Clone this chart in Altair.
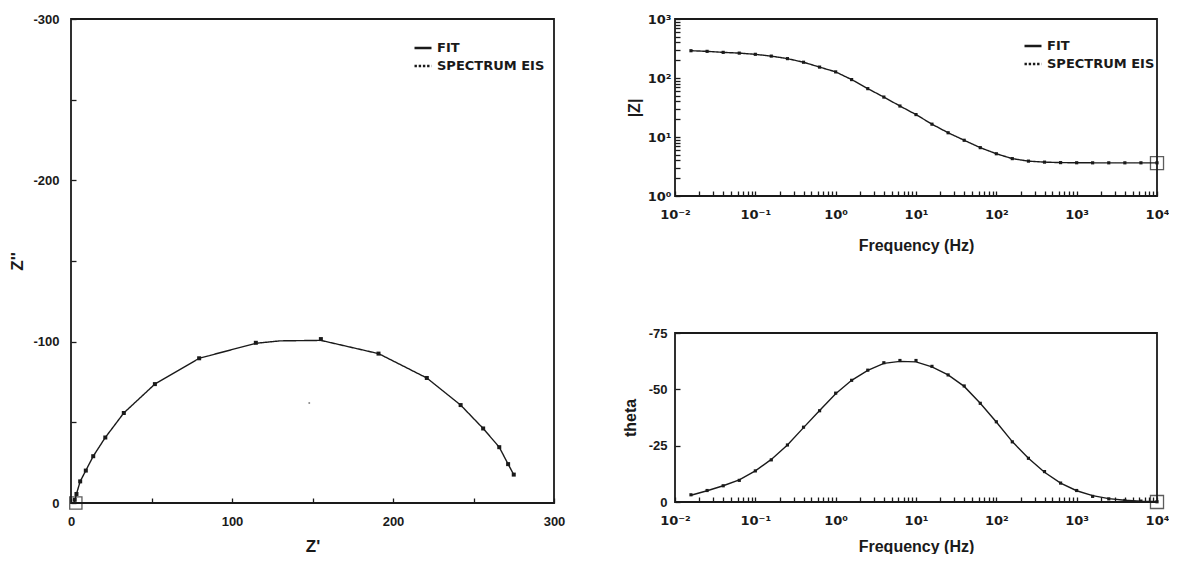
import altair as alt
import pandas as pd

FONT = "Liberation Sans"
SUPFONT = "DejaVu Sans"
INK = "#1a1a1a"

# ---------------- data ----------------
series_names = ["FIT", "SPECTRUM EIS"]

# Nyquist: Z' and Z'' (ohm)
zr_data = [2.3, 3.4, 5.7, 9.2, 13.8, 21.3, 32.8, 52.1, 79.6, 114.8, 155.2,
           191.0, 221.0, 242.0, 256.0, 266.0, 271.5, 275.0]
zi_data = [-2.0, -5.6, -13.4, -20.1, -29.0, -40.6, -55.8, -73.7, -89.7, -99.3,
           -101.6, -92.6, -77.5, -60.7, -46.2, -34.6, -24.1, -17.6]
zr_fit = [2.0, 3.4, 5.7, 9.2, 13.8, 21.3, 32.8, 52.1, 79.6, 114.8, 130.0,
          155.2, 191.0, 221.0, 242.0, 256.0, 266.0, 271.5, 275.0]
zi_fit = [0.0, -5.6, -13.4, -20.1, -29.0, -40.6, -55.8, -73.7, -89.7, -99.0,
          -100.5, -100.8, -92.6, -77.5, -60.7, -46.2, -34.6, -24.1, -17.6]
center_zr = [148.0]
center_zi = [-62.0]
nyq_marker_zr = [3.0]
nyq_marker_zi = [0.0]

# Bode
freq = [0.0158, 0.0251, 0.0398, 0.0631, 0.1, 0.158, 0.251, 0.398, 0.631, 1.0,
        1.58, 2.51, 3.98, 6.31, 10.0, 15.8, 25.1, 39.8, 63.1, 100.0,
        158.0, 251.0, 398.0, 631.0, 1000.0, 1580.0, 2510.0, 3980.0, 6310.0, 10000.0]
modz_data = [290, 283, 272, 264, 252, 235, 213, 185, 153, 127,
             94, 66, 47.5, 33.5, 24, 16.5, 11.8, 8.8, 6.6, 5.2,
             4.3, 3.9, 3.75, 3.68, 3.66, 3.65, 3.65, 3.65, 3.65, 3.65]
modz_fit = modz_data
theta_data = [-3.2, -5.1, -7.2, -9.6, -13.8, -18.7, -25.3, -33.2, -40.5, -48.3,
              -54.0, -58.5, -61.8, -62.8, -62.8, -60.2, -56.4, -51.5, -43.8, -35.6,
              -26.7, -19.4, -13.5, -8.4, -5.1, -2.5, -1.4, -0.7, -0.4, -0.1]
theta_fit = [-3.0, -5.0, -7.2, -9.8, -13.8, -18.9, -25.3, -33.0, -40.6, -48.0,
             -54.0, -58.4, -61.5, -62.4, -62.2, -60.0, -56.4, -51.3, -43.8, -35.5,
             -26.8, -19.4, -13.2, -8.4, -5.0, -2.8, -1.5, -0.8, -0.4, -0.2]
bode_marker_f = [10000.0]
bode_marker_modz = [3.6]
bode_marker_theta = [0.0]

# ticks / labels
nyq_x_ticks = [0, 50, 100, 150, 200, 250, 300]
nyq_x_labels = {0: "0", 100: "100", 200: "200", 300: "300"}
nyq_y_ticks = [-300, -250, -200, -150, -100, -50, 0]
nyq_y_labels = {-300: "-300", -200: "-200", -100: "-100", 0: "0"}
theta_ticks = [-75, -62.5, -50, -37.5, -25, -12.5, 0]
theta_labels = {-75: "-75", -50: "-50", -25: "-25", 0: "0"}
freq_decades = [0.01, 0.1, 1, 10, 100, 1000, 10000]
freq_decade_labels = ["10⁻²", "10⁻¹", "10⁰", "10¹", "10²", "10³", "10⁴"]
modz_decades = [1, 10, 100, 1000]
modz_decade_labels = ["10⁰", "10¹", "10²", "10³"]
minor_mult = [1, 2, 3, 4, 5, 6, 7, 8, 9]


def label_expr(mapping):
    expr = "''"
    for v, t in reversed(list(mapping.items())):
        tol = max(abs(v) * 1e-6, 1e-9)
        expr = f"abs(datum.value - ({v})) < {tol} ? '{t}' : ({expr})"
    return expr


def log_ticks(decades):
    vals = []
    for d in decades[:-1]:
        vals += [d * m for m in minor_mult]
    vals.append(decades[-1])
    return vals


def axis(values, mapping, title, pad, tpad, lfont=FONT, lsize=13, tsize=16):
    return alt.Axis(values=values, labelExpr=label_expr(mapping), title=title,
                    grid=False, domain=False, ticks=True, tickSize=5, offset=-5,
                    tickColor=INK, tickWidth=1.3, labelPadding=pad,
                    titlePadding=tpad, labelColor=INK, titleColor=INK,
                    labelFont=lfont, titleFont=FONT, labelFontWeight="bold",
                    titleFontWeight="bold", labelFontSize=lsize, titleFontSize=tsize,
                    labelFlush=False, labelOverlap=False)


dash_scale = alt.Scale(domain=series_names, range=[[1, 0], [2.4, 1.8]])


def legend(x, y):
    return alt.Legend(title=None, orient="none", legendX=x, legendY=y,
                      symbolType="stroke", symbolSize=289, symbolStrokeColor=INK,
                      symbolStrokeWidth=2.4, labelFont=SUPFONT, labelFontSize=13,
                      labelFontWeight="bold", labelColor=INK, rowPadding=1,
                      labelOffset=4, padding=0)


def frame():
    return alt.Chart(pd.DataFrame({"k": [0]})).mark_rect(
        filled=False, stroke=INK, strokeWidth=1.8).encode(
        x=alt.value(0), x2=alt.value("width"), y=alt.value(0), y2=alt.value("height"))


# ---------------- Nyquist ----------------
nyq_fit_df = pd.DataFrame({"zr": zr_fit, "zi": zi_fit, "series": series_names[0]})
nyq_dat_df = pd.DataFrame({"zr": zr_data, "zi": zi_data})
nyq_c_df = pd.DataFrame({"zr": center_zr, "zi": center_zi})
nyq_m_df = pd.DataFrame({"zr": nyq_marker_zr, "zi": nyq_marker_zi})

nx = alt.Scale(domain=[0, 300], nice=False, zero=False)
ny = alt.Scale(domain=[-300, 0], nice=False, zero=False, reverse=True)
nxa = axis(nyq_x_ticks, nyq_x_labels, "Z'", 12, 10, tsize=17)
nya = axis(nyq_y_ticks, nyq_y_labels, "Z''", 12, 6, tsize=17)

nyq_line = alt.Chart(nyq_fit_df).mark_line(color=INK, strokeWidth=1.4).encode(
    x=alt.X("zr:Q", scale=nx, axis=nxa),
    y=alt.Y("zi:Q", scale=ny, axis=nya),
    strokeDash=alt.StrokeDash("series:N", scale=dash_scale, legend=legend(342, 19)),
    order=alt.Order("zr:Q"),
)
nyq_pts = alt.Chart(nyq_dat_df).mark_square(size=16, color=INK, opacity=1).encode(
    x="zr:Q", y="zi:Q")
nyq_c = alt.Chart(nyq_c_df).mark_circle(size=4, color="#888", opacity=1).encode(
    x="zr:Q", y="zi:Q")
nyq_m = alt.Chart(nyq_m_df).mark_square(size=150, filled=False, color=INK,
                                         strokeWidth=1.3).encode(x="zr:Q", y="zi:Q")
nyquist = alt.layer(nyq_line, nyq_pts, nyq_c, nyq_m, frame()).properties(
    width=483, height=484)

# ---------------- Bode |Z| ----------------
fx = alt.Scale(type="log", domain=[0.01, 10000], nice=False)
fxa_top = axis(log_ticks(freq_decades), dict(zip(freq_decades, freq_decade_labels)),
               "Frequency (Hz)", 12, 16, lfont=SUPFONT, lsize=13)
fxa_bot = axis(log_ticks(freq_decades), dict(zip(freq_decades, freq_decade_labels)),
               "Frequency (Hz)", 12, 11, lfont=SUPFONT, lsize=13)

mz_fit_df = pd.DataFrame({"f": freq, "v": modz_fit, "series": series_names[0]})
mz_dat_df = pd.DataFrame({"f": freq, "v": modz_data})
mz_m_df = pd.DataFrame({"f": bode_marker_f, "v": bode_marker_modz})
my = alt.Scale(type="log", domain=[1, 1000], nice=False)
mya = axis(log_ticks(modz_decades), dict(zip(modz_decades, modz_decade_labels)),
           "|Z|", 4, 5, lfont=SUPFONT, lsize=13)

mz_line = alt.Chart(mz_fit_df).mark_line(color=INK, strokeWidth=1.4).encode(
    x=alt.X("f:Q", scale=fx, axis=fxa_top),
    y=alt.Y("v:Q", scale=my, axis=mya),
    strokeDash=alt.StrokeDash("series:N", scale=dash_scale, legend=legend(348, 17)),
)
mz_pts = alt.Chart(mz_dat_df).mark_square(size=10, color=INK, opacity=1).encode(
    x="f:Q", y="v:Q")
mz_m = alt.Chart(mz_m_df).mark_square(size=170, filled=False, color=INK,
                                       strokeWidth=1.3).encode(x="f:Q", y="v:Q")
bode_mod = alt.layer(mz_line, mz_pts, mz_m, frame()).properties(width=482, height=177)

# ---------------- Bode theta ----------------
th_fit_df = pd.DataFrame({"f": freq, "v": theta_fit})
th_dat_df = pd.DataFrame({"f": freq, "v": theta_data})
th_m_df = pd.DataFrame({"f": bode_marker_f, "v": bode_marker_theta})
ty = alt.Scale(domain=[-75, 0], nice=False, zero=False, reverse=True)
tya = axis(theta_ticks, theta_labels, "theta", 8, 10)

th_line = alt.Chart(th_fit_df).mark_line(color=INK, strokeWidth=1.4).encode(
    x=alt.X("f:Q", scale=fx, axis=fxa_bot),
    y=alt.Y("v:Q", scale=ty, axis=tya),
)
th_pts = alt.Chart(th_dat_df).mark_square(size=10, color=INK, opacity=1).encode(
    x="f:Q", y="v:Q")
th_m = alt.Chart(th_m_df).mark_square(size=170, filled=False, color=INK,
                                       strokeWidth=1.3).encode(x="f:Q", y="v:Q")
bode_th = alt.layer(th_line, th_pts, th_m, frame()).properties(width=482, height=169)

right = alt.vconcat(bode_mod, bode_th, spacing=74).resolve_scale(
    strokeDash="independent").resolve_legend(strokeDash="independent")

chart = alt.hconcat(nyquist, right, spacing=57).resolve_scale(
    strokeDash="independent").resolve_legend(strokeDash="independent").properties(
    background="white", padding={"left": 0, "top": 5, "right": 0, "bottom": 0}
).configure_view(stroke=None)

chart.save("out.html", embed_options={"renderer": "svg", "actions": False})
